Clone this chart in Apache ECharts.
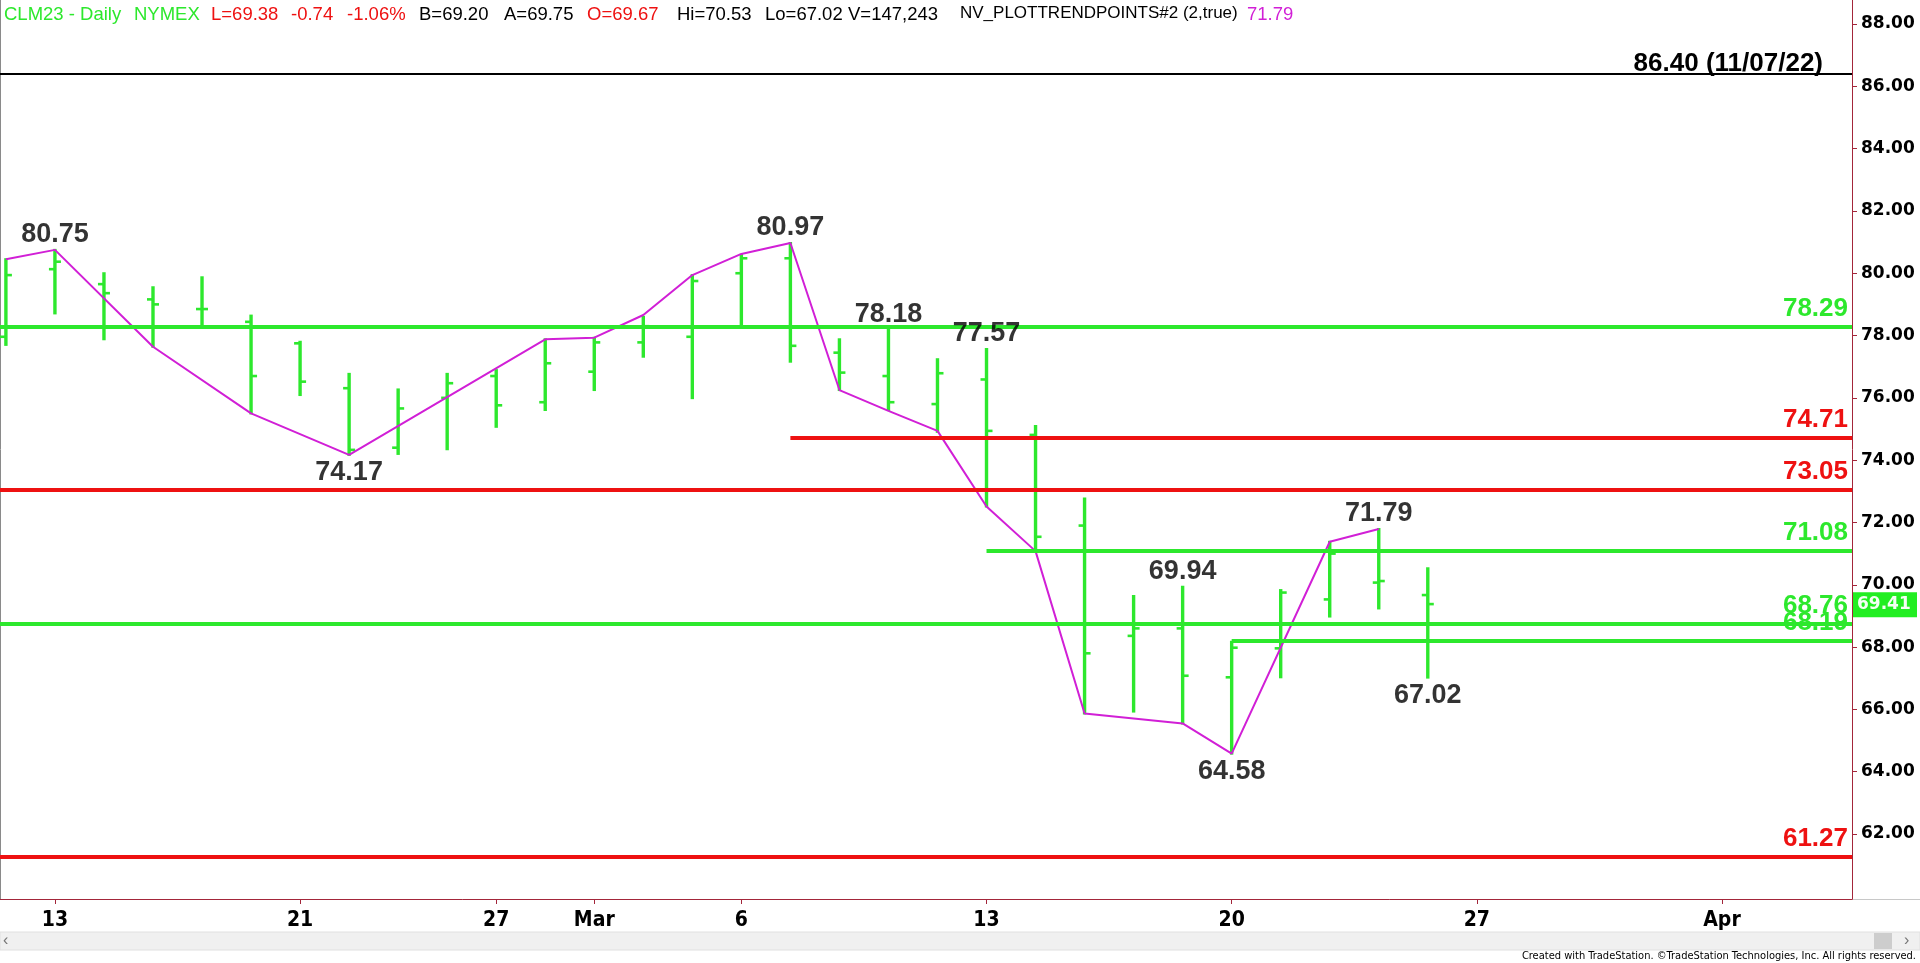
<!DOCTYPE html>
<html><head><meta charset="utf-8">
<script src="https://cdn.jsdelivr.net/npm/echarts@6/dist/echarts.min.js"></script>
<style>html,body{margin:0;padding:0;background:#fff;overflow:hidden}#c{width:1920px;height:963px}</style>
</head><body><div id="c"></div>
<script>
// ---- data (CLM23 daily) ----
const dates = ['Feb 10','Feb 13','Feb 14','Feb 15','Feb 16','Feb 17','Feb 21','Feb 22','Feb 23','Feb 24',
  'Feb 27','Feb 28','Mar 1','Mar 2','Mar 3','Mar 6','Mar 7','Mar 8','Mar 9','Mar 10',
  'Mar 13','Mar 14','Mar 15','Mar 16','Mar 17','Mar 20','Mar 21','Mar 22','Mar 23','Mar 24'];
const opens  = [77.96,80.13,79.65,79.16,78.85,78.44,77.75,76.31,74.40,76.00,76.70,75.86,76.84,77.78,77.96,80.00,80.48,77.45,76.70,75.80,76.59,74.81,71.90,68.36,68.60,67.03,67.96,69.53,70.07,69.67];
const highs  = [80.45,80.75,80.00,79.55,79.87,78.64,77.80,76.77,76.27,76.77,76.89,77.88,77.93,78.60,79.94,80.59,80.97,77.88,78.18,77.24,77.57,75.10,72.77,69.64,69.94,68.17,69.83,71.38,71.79,70.53];
const lows   = [77.70,78.71,77.88,77.64,78.31,75.50,76.09,74.17,74.20,74.35,75.07,75.61,76.25,77.32,75.99,78.31,77.16,76.25,75.61,74.91,72.51,71.06,65.87,65.93,65.55,64.58,67.03,68.98,69.24,67.02];
const closes = [79.94,80.37,79.36,79.00,78.85,76.70,76.52,74.33,75.66,76.47,75.76,77.11,77.78,78.30,79.75,80.48,77.67,76.81,75.86,76.79,74.94,71.54,67.80,68.60,67.08,67.98,69.75,71.00,70.12,69.38];

const trendIdx  = [0,1,3,5,7,11,12,13,14,15,16,17,18,19,20,21,22,24,25,27,28];
const trendVals = [80.45,80.75,77.64,75.50,74.17,77.88,77.93,78.66,79.94,80.62,80.97,76.25,75.58,74.94,72.51,71.08,65.87,65.55,64.58,71.38,71.79];

const levelValues = [86.40, 78.29, 74.71, 73.05, 71.08, 68.76, 68.19, 61.27];
const levelStartIdx = [null, null, 16, null, 20, null, 25, null];
const levelKinds = ['prior','support','resist','resist','support','support','support','resist'];
const levelNotes = ['(11/07/22)','','','','','','',''];

const pivotHighIdx = [1,16,18,20,24,28];
const pivotHighVals = [80.75,80.97,78.18,77.57,69.94,71.79];
const pivotLowIdx = [7,25,29];
const pivotLowVals = [74.17,64.58,67.02];

const lastPrice = 69.41;

const xTickIdx = [1,6,10,12,15,20,25,30,35];
const xTickLabels = ['13','21','27','Mar','6','13','20','27','Apr'];
const yTicks = [62,64,66,68,70,72,74,76,78,80,82,84,86,88];

const headerParts = ['CLM23 - Daily','NYMEX','L=69.38','-0.74','-1.06%','B=69.20','A=69.75','O=69.67','Hi=70.53','Lo=67.02','V=147,243','NV_PLOTTRENDPOINTS#2 (2,true)','71.79'];

// ---- styles ----
const GREEN = '#2DE82D', RED = '#EE1111', MAG = '#D11FD6', AXIS = '#A3263A';
const ARIAL = '"Liberation Sans", Arial, sans-serif';
const NARROW = '"Liberation Sans Narrow", "Arial Narrow", "DejaVu Sans Condensed", sans-serif';
const kindColor = {prior:'#000000', support:GREEN, resist:RED};
const headerX = [4,134,211,291,347,419,504,587,677,765,848,960,1247];
const headerSize = [18.5,18.5,18.5,18.5,18.5,18.5,18.5,18.5,18.5,18.5,18.5,17,18.5];
const headerColor = [GREEN,GREEN,RED,RED,RED,'#000','#000',RED,'#000','#000','#000','#000',MAG];

const X_MIN = -0.1203, X_MAX = 37.652, Y_MIN = 59.914, Y_MAX = 88.770;

const ohlc = dates.map((d,i)=>[i, opens[i], highs[i], lows[i], closes[i]]);

const levelData = levelValues.map((v,i)=>{
  const c = kindColor[levelKinds[i]];
  const isPrior = levelKinds[i]==='prior';
  const txt = v.toFixed(2) + (levelNotes[i] ? ' ' + levelNotes[i] : '');
  return [
    {coord:[levelStartIdx[i]===null ? X_MIN : levelStartIdx[i], v],
     lineStyle:{color:c, width: isPrior ? 2 : 4, type:'solid'},
     label:{show:true, position:'insideEndTop', formatter: txt, color:c,
       fontSize:26, fontWeight:'bold', fontFamily:ARIAL, distance: isPrior ? [29,-3] : [4,5]}},
    {coord:[X_MAX, v]}
  ];
});

const chart = echarts.init(document.getElementById('c'), null, {renderer:'canvas'});
chart.setOption({
  animation:false,
  backgroundColor:'#ffffff',
  grid:{left:0, right:68, top:0, bottom:64, containLabel:false},
  xAxis:{type:'value', min:X_MIN, max:X_MAX, position:'bottom',
    axisLine:{show:true, onZero:false, lineStyle:{color:AXIS, width:1}},
    axisTick:{show:true, length:5, lineStyle:{color:AXIS}, customValues:xTickIdx},
    axisLabel:{show:true, customValues:xTickIdx, margin:11,
      formatter:(v)=>{const k=xTickIdx.indexOf(Math.round(v)); return k>=0?xTickLabels[k]:'';},
      color:'#000', fontFamily:NARROW, fontWeight:'bold', fontSize:21},
    splitLine:{show:false}},
  yAxis:{type:'value', position:'right', min:Y_MIN, max:Y_MAX,
    axisLine:{show:true, onZero:false, lineStyle:{color:AXIS, width:1}},
    axisTick:{show:true, length:5, lineStyle:{color:AXIS}, customValues:yTicks},
    axisLabel:{show:true, customValues:yTicks, margin:9, formatter:(v)=>v.toFixed(2),
      color:'#000', fontFamily:'"DejaVu Sans", sans-serif', fontWeight:'bold', fontSize:17},
    splitLine:{show:false}},
  series:[
    {type:'line', name:'levels', data:[], silent:true, z:1,
     markLine:{silent:true, symbol:['none','none'], animation:false, data:levelData}},
    {type:'custom', name:'CLM23', z:3, data:ohlc,
     renderItem:(params, api)=>{
       const x = api.value(0);
       const o = api.coord([x, api.value(1)]);
       const h = api.coord([x, api.value(2)]);
       const l = api.coord([x, api.value(3)]);
       const c = api.coord([x, api.value(4)]);
       return {type:'group', children:[
         {type:'line', shape:{x1:h[0], y1:h[1]-1, x2:l[0], y2:l[1]+1}, style:{stroke:GREEN, lineWidth:3.4}},
         {type:'line', shape:{x1:o[0]-6, y1:o[1], x2:o[0], y2:o[1]}, style:{stroke:GREEN, lineWidth:2.6}},
         {type:'line', shape:{x1:c[0], y1:c[1], x2:c[0]+6, y2:c[1]}, style:{stroke:GREEN, lineWidth:2.6}}
       ]};
     }},
    {type:'line', name:'trend', z:4, data:trendIdx.map((x,i)=>[x, trendVals[i]]),
     symbol:'none', lineStyle:{color:MAG, width:2}},
    {type:'scatter', name:'highs', z:5, symbolSize:0, data:pivotHighIdx.map((x,i)=>[x, pivotHighVals[i]]),
     label:{show:true, position:'top', distance:2, formatter:(p)=>p.value[1].toFixed(2),
       color:'#000', fontSize:27, fontWeight:'bold', fontFamily:ARIAL}},
    {type:'scatter', name:'lows', z:5, symbolSize:0, data:pivotLowIdx.map((x,i)=>[x, pivotLowVals[i]]),
     label:{show:true, position:'bottom', distance:4, formatter:(p)=>p.value[1].toFixed(2),
       color:'#000', fontSize:27, fontWeight:'bold', fontFamily:ARIAL}}
  ]
});

// last-price flag on the price axis, placed through the axis scale
const py = chart.convertToPixel({yAxisIndex:0}, lastPrice);
const px = chart.convertToPixel({xAxisIndex:0}, X_MAX);

chart.setOption({graphic:[
  ...headerParts.map((t,i)=>({type:'text', id:'hdr'+i, left:headerX[i], top:5, z:10,
    style:{text:t, fill:headerColor[i], font:headerSize[i] + 'px ' + ARIAL}})),
  {type:'line', id:'leftBorder', shape:{x1:0.5, y1:0, x2:0.5, y2:899}, style:{stroke:'#8a8a8a', lineWidth:1}},
  {type:'line', id:'axisExt', shape:{x1:1852, y1:899.5, x2:1920, y2:899.5}, style:{stroke:'#c8c8c8', lineWidth:1}},
  {type:'rect', id:'scroll', shape:{x:0, y:932, width:1920, height:18}, style:{fill:'#F0F0F0', stroke:'#E0E0E0'}},
  {type:'rect', id:'thumb', shape:{x:1874, y:933, width:18, height:16}, style:{fill:'#CDCDCD'}},
  {type:'text', id:'arrL', left:3, top:933, style:{text:'\u2039', fill:'#777', font:'16px ' + ARIAL}},
  {type:'text', id:'arrR', left:1904, top:933, style:{text:'\u203A', fill:'#777', font:'16px ' + ARIAL}},
  {type:'text', id:'credit', right:4, top:951, style:{text:'Created with TradeStation. \u00A9TradeStation Technologies, Inc. All rights reserved.',
    fill:'#000', font:'11px ' + NARROW}},
  {type:'group', id:'lastFlag', x:px + 1, y:py, z:20, children:[
    {type:'rect', shape:{x:0, y:-11, width:64, height:25}, style:{fill:'#22EE22'}},
    {type:'text', style:{text:lastPrice.toFixed(2), x:4, y:1.5, fill:'#F4FFF4', verticalAlign:'middle',
      font:'bold 17px "DejaVu Sans", sans-serif'}}
  ]}
]});
</script></body></html>
